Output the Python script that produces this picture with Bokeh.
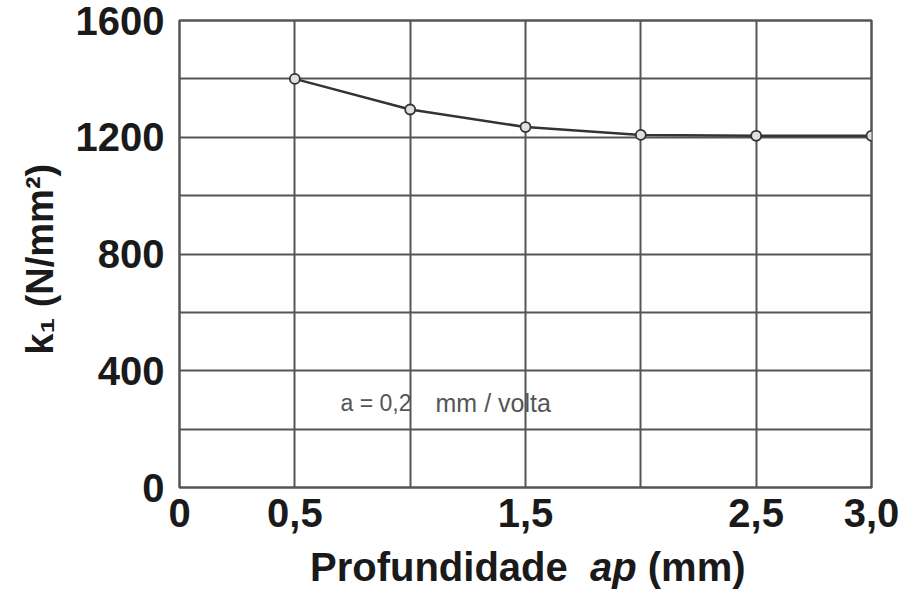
from bokeh.plotting import figure
from bokeh.models import FixedTicker, Label, Div
from bokeh.layouts import column
from bokeh.embed import file_html
from bokeh.resources import INLINE

# data
ap = [0.5, 1.0, 1.5, 2.0, 2.5, 3.0]
k1 = [1400, 1295, 1235, 1208, 1205, 1205]

x_ticks = [0, 0.5, 1.0, 1.5, 2.0, 2.5, 3.0]
x_labels = {0: "0", 0.5: "0,5", 1: "", 1.5: "1,5", 2: "", 2.5: "2,5", 3: "3,0"}
y_ticks = [0, 200, 400, 600, 800, 1000, 1200, 1400, 1600]
y_labels = {0: "0", 200: "", 400: "400", 600: "", 800: "800", 1000: "",
            1200: "1200", 1400: "", 1600: "1600"}

x_title_parts = ["Profundidade", "ap", "(mm)"]
y_title = "k\u2081  (N/mm\u00b2)"
note_parts = ["a = 0,2", "mm / volta"]

FONT = "Liberation Sans"
INK = "#1a1a1a"
GRID = "#555555"

p = figure(width=900, height=545, x_range=(0, 3), y_range=(0, 1600),
           output_backend="svg", toolbar_location=None,
           min_border_left=179, min_border_right=29,
           min_border_top=20, min_border_bottom=58)

p.background_fill_color = "white"
p.border_fill_color = "white"
p.outline_line_color = GRID
p.outline_line_width = 2.5

p.xaxis.ticker = FixedTicker(ticks=x_ticks)
p.yaxis.ticker = FixedTicker(ticks=y_ticks)
p.xaxis.major_label_overrides = x_labels
p.yaxis.major_label_overrides = y_labels

for ax in (p.xaxis, p.yaxis):
    ax.axis_line_color = None
    ax.major_tick_line_color = None
    ax.minor_tick_line_color = None
    ax.major_tick_out = 0
    ax.major_tick_in = 0
    ax.major_label_text_font = FONT
    ax.major_label_text_font_style = "bold"
    ax.major_label_text_font_size = "40px"
    ax.major_label_text_color = INK

p.xaxis.major_label_standoff = 11
p.yaxis.major_label_standoff = 15

p.yaxis.axis_label = y_title
p.yaxis.axis_label_text_font = FONT
p.yaxis.axis_label_text_font_style = "bold"
p.yaxis.axis_label_text_font_size = "38px"
p.yaxis.axis_label_text_color = INK
p.yaxis.axis_label_standoff = 12

p.grid.grid_line_color = GRID
p.grid.grid_line_width = 2
p.xgrid.ticker = FixedTicker(ticks=x_ticks)
p.ygrid.ticker = FixedTicker(ticks=y_ticks)

p.line(ap, k1, line_color="#333333", line_width=2.5)
p.scatter(ap, k1, size=10, marker="circle", fill_color="#e0e0e0",
          line_color="#333333", line_width=1.8)

# annotation inside the plot
p.add_layout(Label(x=0.698, y=290, text=note_parts[0], text_font=FONT,
                   text_font_size="23px", text_color="#555555",
                   text_baseline="middle", text_align="left"))
p.add_layout(Label(x=1.11, y=290, text=note_parts[1], text_font=FONT,
                   text_font_size="25px", text_color="#555555",
                   text_baseline="middle", text_align="left"))

# x-axis title, with "ap" in italics
title_html = "%s&nbsp; <i>%s</i> %s" % tuple(x_title_parts)
title = Div(text=title_html, width=590, height=42, margin=(0, 0, 0, 310),
            styles={"font-family": FONT, "font-weight": "bold",
                    "font-size": "40px", "line-height": "44px",
                    "color": INK, "white-space": "nowrap"})

layout = column(p, title, spacing=0)
open("out.html", "w").write(file_html(layout, INLINE))
